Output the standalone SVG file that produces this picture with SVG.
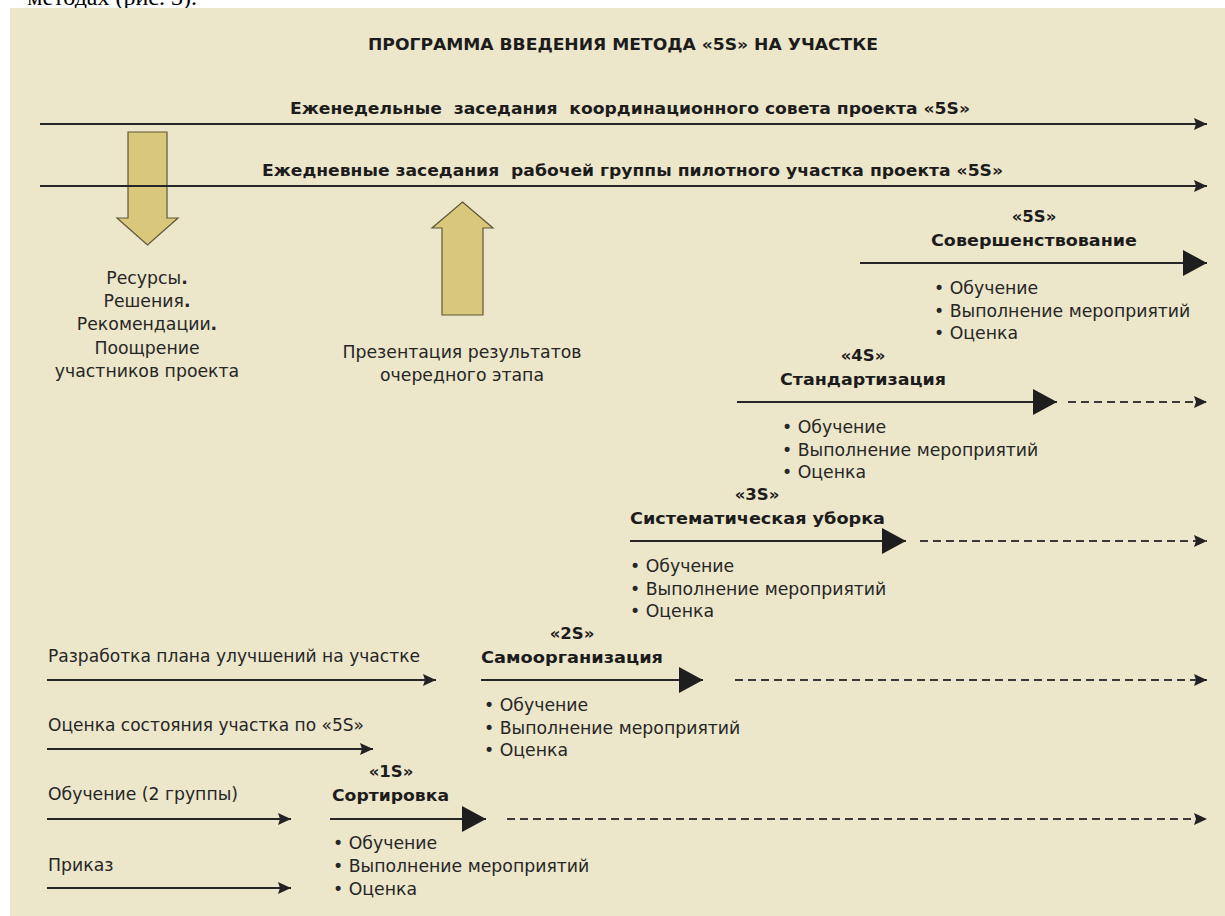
<svg xmlns="http://www.w3.org/2000/svg" width="1225" height="916" viewBox="0 0 1225 916">
<style>
 .t{font-family:"DejaVu Sans","Liberation Sans",sans-serif;font-size:17.3px;fill:#262626}
 .b{font-family:"DejaVu Sans","Liberation Sans",sans-serif;font-size:16.5px;font-weight:bold;fill:#1c1c1c}
 .c{text-anchor:middle}
 .ln{stroke:#262626;stroke-width:2;fill:none}
 .ds{stroke:#3a3a3a;stroke-width:2;fill:none;stroke-dasharray:8 5}
 .ya{fill:#D9C77B;stroke:#5e5638;stroke-width:1.2}
</style>
<defs>
 <marker id="sm" markerUnits="userSpaceOnUse" markerWidth="14" markerHeight="13" refX="13" refY="6.5" orient="auto">
  <path d="M0,0.5 L13,6.5 L0,12.5 L2,6.5 z" fill="#222"/>
 </marker>
 <marker id="bg" markerUnits="userSpaceOnUse" markerWidth="25" markerHeight="28" refX="24" refY="14" orient="auto">
  <path d="M0,1 L24,14 L0,27 z" fill="#1e1e1e"/>
 </marker>
</defs>
<rect x="0" y="0" width="1225" height="916" fill="#ffffff"/>
<text x="197" y="5" text-anchor="end" font-family="'Liberation Serif',serif" font-size="24" fill="#000">методах (рис. 3).</text>
<rect x="10" y="8" width="1215" height="908" fill="#ECE6CA"/>

<g id="title"><text class="b" x="368" y="50" textLength="510" lengthAdjust="spacingAndGlyphs">ПРОГРАММА ВВЕДЕНИЯ МЕТОДА «5S» НА УЧАСТКЕ</text></g>

<g id="weekly"><text class="b" x="290" y="114" xml:space="preserve" textLength="680" lengthAdjust="spacingAndGlyphs">Еженедельные  заседания  координационного совета проекта «5S»</text></g>
<g id="daily"><text class="b" x="262" y="176" xml:space="preserve" textLength="741" lengthAdjust="spacingAndGlyphs">Ежедневные заседания  рабочей группы пилотного участка проекта «5S»</text></g>

<g id="down-arrow"><polygon class="ya" points="128,132 167,132 167,218 178,218 147.5,245 117,218 128,218"/></g>
<g id="up-arrow"><polygon class="ya" points="462.5,202 493,228 483,228 483,315 442,315 442,228 432,228"/></g>

<g id="resources">
 <text class="t c" x="147" y="284">Ресурсы<tspan font-weight="bold">.</tspan></text>
 <text class="t c" x="147" y="307">Решения<tspan font-weight="bold">.</tspan></text>
 <text class="t c" x="147" y="330">Рекомендации<tspan font-weight="bold">.</tspan></text>
 <text class="t c" x="147" y="354">Поощрение</text>
 <text class="t c" x="147" y="377">участников проекта</text>
</g>
<g id="presentation">
 <text class="t c" x="462" y="358">Презентация результатов</text>
 <text class="t c" x="462" y="381">очередного этапа</text>
</g>

<g id="s5">
 <text class="b c" x="1034" y="222">«5S»</text>
 <text class="b" x="931" y="246" textLength="206" lengthAdjust="spacingAndGlyphs">Совершенствование</text>
 <text class="t" x="934" y="294">• Обучение</text>
 <text class="t" x="934" y="317">• Выполнение мероприятий</text>
 <text class="t" x="934" y="339">• Оценка</text>
</g>
<g id="s4">
 <text class="b c" x="863" y="361">«4S»</text>
 <text class="b" x="780" y="385" textLength="166" lengthAdjust="spacingAndGlyphs">Стандартизация</text>
 <text class="t" x="782" y="433">• Обучение</text>
 <text class="t" x="782" y="456">• Выполнение мероприятий</text>
 <text class="t" x="782" y="478">• Оценка</text>
</g>
<g id="s3">
 <text class="b c" x="757" y="500">«3S»</text>
 <text class="b" x="630" y="524" textLength="255" lengthAdjust="spacingAndGlyphs">Систематическая уборка</text>
 <text class="t" x="630" y="572">• Обучение</text>
 <text class="t" x="630" y="595">• Выполнение мероприятий</text>
 <text class="t" x="630" y="617">• Оценка</text>
</g>
<g id="s2">
 <text class="b c" x="572" y="639">«2S»</text>
 <text class="b" x="481" y="663" textLength="182" lengthAdjust="spacingAndGlyphs">Самоорганизация</text>
 <text class="t" x="484" y="711">• Обучение</text>
 <text class="t" x="484" y="734">• Выполнение мероприятий</text>
 <text class="t" x="484" y="756">• Оценка</text>
</g>
<g id="s1">
 <text class="b c" x="391" y="777">«1S»</text>
 <text class="b" x="332" y="801" textLength="117" lengthAdjust="spacingAndGlyphs">Сортировка</text>
 <text class="t" x="333" y="849">• Обучение</text>
 <text class="t" x="333" y="872">• Выполнение мероприятий</text>
 <text class="t" x="333" y="895">• Оценка</text>
</g>

<g id="prep-plan"><text class="t" x="48" y="662" textLength="372" lengthAdjust="spacingAndGlyphs">Разработка плана улучшений на участке</text></g>
<g id="prep-assess"><text class="t" x="48" y="731" textLength="316" lengthAdjust="spacingAndGlyphs">Оценка состояния участка по «5S»</text></g>
<g id="prep-train"><text class="t" x="48" y="800" textLength="190" lengthAdjust="spacingAndGlyphs">Обучение (2 группы)</text></g>
<g id="prep-order"><text class="t" x="48" y="871">Приказ</text></g>

<g id="connectors">
 <line class="ln" x1="40" y1="124" x2="1207" y2="124" marker-end="url(#sm)"/>
 <line class="ln" x1="40" y1="186" x2="1207" y2="186" marker-end="url(#sm)"/>

 <line class="ln" x1="860" y1="263" x2="1207" y2="263" marker-end="url(#bg)"/>

 <line class="ln" x1="737" y1="402" x2="1057" y2="402" marker-end="url(#bg)"/>
 <line class="ds" x1="1068" y1="402" x2="1207" y2="402" marker-end="url(#sm)"/>

 <line class="ln" x1="630" y1="541" x2="906" y2="541" marker-end="url(#bg)"/>
 <line class="ds" x1="920" y1="541" x2="1207" y2="541" marker-end="url(#sm)"/>

 <line class="ln" x1="481" y1="680" x2="703" y2="680" marker-end="url(#bg)"/>
 <line class="ds" x1="735" y1="680" x2="1207" y2="680" marker-end="url(#sm)"/>

 <line class="ln" x1="330" y1="819" x2="486" y2="819" marker-end="url(#bg)"/>
 <line class="ds" x1="507" y1="819" x2="1207" y2="819" marker-end="url(#sm)"/>

 <line class="ln" x1="47" y1="680" x2="436" y2="680" marker-end="url(#sm)"/>
 <line class="ln" x1="47" y1="749" x2="373" y2="749" marker-end="url(#sm)"/>
 <line class="ln" x1="47" y1="819" x2="291" y2="819" marker-end="url(#sm)"/>
 <line class="ln" x1="47" y1="888" x2="291" y2="888" marker-end="url(#sm)"/>
</g>
</svg>
